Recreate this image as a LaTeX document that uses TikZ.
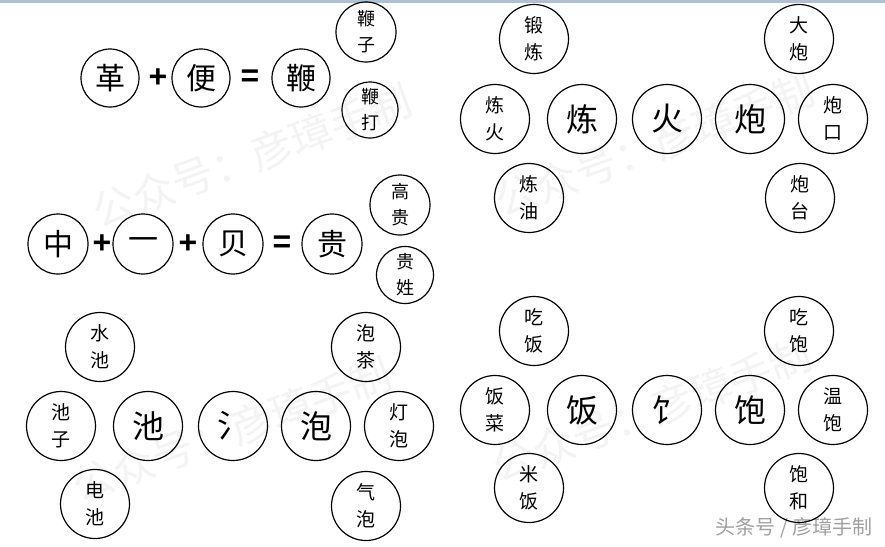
\documentclass[tikz,border=0pt]{standalone}
\usepackage{fontspec}
\newfontfamily\cjk{Noto Sans CJK SC}
\newfontfamily\symfont{Liberation Sans}
\definecolor{topline}{RGB}{178,192,206}
\definecolor{wmark}{RGB}{243,243,243}
\definecolor{wmark2}{RGB}{160,160,160}
\tikzset{
  ring/.style={circle, draw=black, line width=1.2pt, inner sep=0pt, align=center},
  bigA/.style={ring, minimum size=58pt, font=\cjk\fontsize{30}{30}\selectfont},
  bigB/.style={ring, minimum size=69pt, font=\cjk\fontsize{32}{32}\selectfont},
  smallA/.style={ring, minimum size=58pt, font=\cjk\fontsize{18}{26}\selectfont},
  smallB/.style={ring, minimum size=69pt, font=\cjk\fontsize{19}{27}\selectfont},
  opsign/.style={inner sep=0pt, font=\symfont\bfseries\fontsize{32}{32}\selectfont},
  wm/.style={text=wmark, font=\cjk\fontsize{42}{42}\selectfont, rotate=20},
}
\begin{document}
\begin{tikzpicture}[x=1pt,y=-1pt]
\useasboundingbox (0,0) rectangle (885,546);
\fill[white] (0,0) rectangle (885,546);
\fill[topline] (0,0) rectangle (885,2.5);
% watermarks
\node[wm] (w1) at (252,156) {公众号：彦璋手制};
\node[wm] (w2) at (232,430) {公众号：彦璋手制};
\node[wm] (w3) at (655,145) {公众号：彦璋手制};
\node[wm] (w4) at (652,410) {公众号：彦璋手制};
\node[anchor=east, text=wmark2, font=\cjk\fontsize{20}{20}\selectfont] (w5) at (876,528) {头条号 / 彦璋手制};
% row 1
\node[bigA] (a1) at (110,78) {革};
\node[opsign] (p1) at (158,78) {+};
\node[bigA] (a2) at (201,78) {便};
\node[opsign] (e1) at (250,78) {=};
\node[bigA] (a3) at (301,78) {鞭};
\node[smallA, minimum size=60pt] (a4) at (366,32) {鞭\\子};
\node[smallA, minimum size=56pt] (a5) at (370,110) {鞭\\打};
% row 2
\node[bigA, minimum size=60pt] (b1) at (58,244) {中};
\node[opsign] (p2) at (102,244) {+};
\node[bigA, minimum size=60pt] (b2) at (143,244) {一};
\node[opsign] (p3) at (188,244) {+};
\node[bigA, minimum size=60pt] (b3) at (233,244) {贝};
\node[opsign] (e2) at (282,244) {=};
\node[bigA, minimum size=60pt] (b4) at (332,244) {贵};
\node[smallA, minimum size=60pt] (b5) at (400,205) {高\\贵};
\node[smallA, minimum size=57pt] (b6) at (405,275) {贵\\姓};
% row 3 left
\node[smallB] (c1) at (100,347) {水\\池};
\node[smallB] (c2) at (61,426) {池\\子};
\node[bigB] (c3) at (148,426) {池};
\node[bigB] (c4) at (233,426) {氵};
\node[bigB] (c5) at (316,426) {泡};
\node[smallB] (c6) at (399,426) {灯\\泡};
\node[smallB] (c7) at (366,347) {泡\\茶};
\node[smallB] (c8) at (95,504) {电\\池};
\node[smallB] (c9) at (366,506) {气\\泡};
% top right
\node[smallB] (d1) at (534,39) {锻\\炼};
\node[smallB] (d2) at (495,119) {炼\\火};
\node[bigB] (d3) at (582,119) {炼};
\node[bigB] (d4) at (667,119) {火};
\node[bigB] (d5) at (750,119) {炮};
\node[smallB] (d6) at (833,119) {炮\\口};
\node[smallB] (d7) at (799,39) {大\\炮};
\node[smallB] (d8) at (529,198) {炼\\油};
\node[smallB] (d9) at (800,198) {炮\\台};
% bottom right
\node[smallB] (f1) at (534,331) {吃\\饭};
\node[smallB] (f2) at (495,410) {饭\\菜};
\node[bigB] (f3) at (582,410) {饭};
\node[bigB] (f4) at (667,410) {饣};
\node[bigB] (f5) at (750,410) {饱};
\node[smallB] (f6) at (833,410) {温\\饱};
\node[smallB] (f7) at (799,331) {吃\\饱};
\node[smallB] (f8) at (529,488) {米\\饭};
\node[smallB] (f9) at (799,488) {饱\\和};
\end{tikzpicture}
\end{document}
